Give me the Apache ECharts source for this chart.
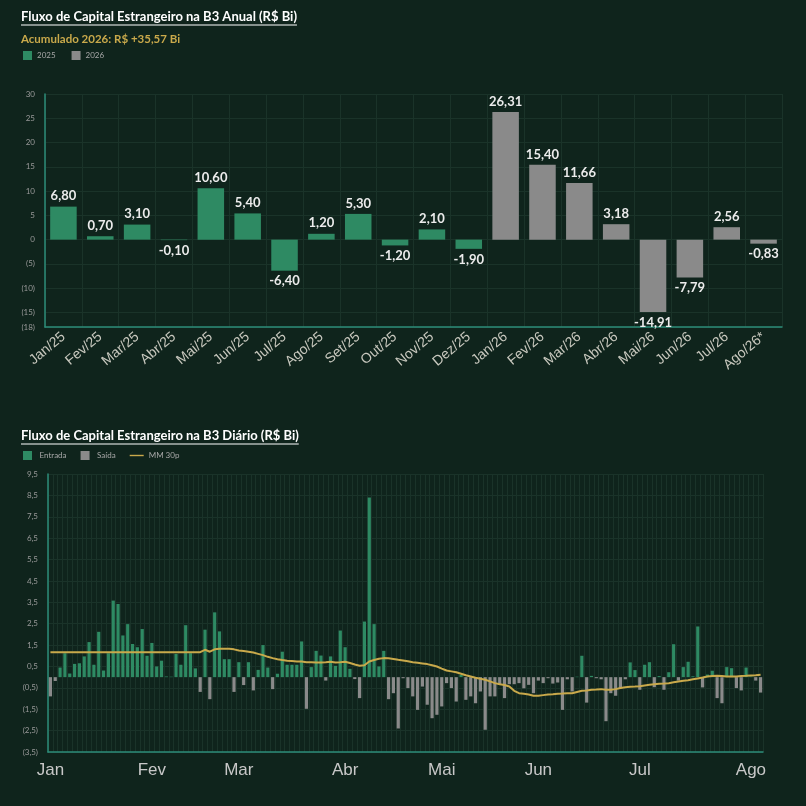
<!DOCTYPE html>
<html>
<head>
<meta charset="utf-8">
<script src="https://cdn.jsdelivr.net/npm/echarts@6/dist/echarts.min.js"></script>
<style>
  html, body { margin: 0; padding: 0; background: #0f241c; }
  #anual { width: 806px; height: 400px; }
  #diario { width: 806px; height: 406px; }
</style>
</head>
<body>
<div id="anual"></div>
<div id="diario"></div>
<script>
// monthly flow (R$ Bi)
var months2025 = ['Jan/25', 'Fev/25', 'Mar/25', 'Abr/25', 'Mai/25', 'Jun/25', 'Jul/25', 'Ago/25', 'Set/25', 'Out/25', 'Nov/25', 'Dez/25'];
var months2026 = ['Jan/26', 'Fev/26', 'Mar/26', 'Abr/26', 'Mai/26', 'Jun/26', 'Jul/26', 'Ago/26*'];
var flow2025 = [6.80, 0.70, 3.10, -0.10, 10.60, 5.40, -6.40, 1.20, 5.30, -1.20, 2.10, -1.90];
var flow2026 = [26.31, 15.40, 11.66, 3.18, -14.91, -7.79, 2.56, -0.83];
var accum2026 = '+35,57';

// daily flow (R$ Bi)
var monthNames = ['Jan', 'Fev', 'Mar', 'Abr', 'Mai', 'Jun', 'Jul', 'Ago'];
var tradingDays = [21, 18, 22, 20, 20, 21, 23, 3];
var dailyFlow = [
  -0.90, -0.18, 0.45, 1.12, 0.17, 0.62, 0.65, 0.97, 1.64, 0.58,
  2.12, 0.31, 1.12, 3.58, 3.42, 1.95, 2.48, 1.55, 1.40, 2.25,
  1.00, 1.60, 0.50, 0.77, 0.03, 0.02, 1.09, 0.58, 2.43, 1.12,
  0.41, -0.69, 2.22, -1.03, 3.03, 2.14, 0.84, 0.84, -0.69, 0.70,
  -0.37, 0.70, -0.62, 0.34, 1.50, 0.45, -0.56, 0.16, 1.19, 0.58,
  0.58, 0.58, 1.67, -1.48, 0.47, 1.23, 1.01, -0.16, 0.97, 0.53,
  2.18, 1.40, 0.39, -0.09, -0.98, 2.60, 8.40, 2.48, 0.50, 1.23,
  -1.03, -0.75, -2.40, -0.05, -0.51, -0.90, -1.53, -0.44, -1.29, -1.92,
  -1.76, -1.37, -0.28, -0.51, -1.14, 0.10, -1.06, -0.90, -1.22, -0.67,
  -2.46, -0.90, -0.90, -0.36, -0.98, -0.33, -0.33, -0.28, -0.52, -0.36,
  -0.75, -0.16, -0.28, -0.05, -0.30, -0.25, -1.53, -0.10, -0.67, 0.02,
  1.00, -1.19, 0.06, -0.05, -0.10, -2.06, -0.75, -0.87, -0.52, -0.10,
  0.69, 0.33, -0.59, 0.58, 0.70, -0.47, 0.05, -0.59, 0.23, 1.54,
  -0.16, 0.47, 0.72, 0.04, 2.37, -0.48, 0.12, 0.30, -0.98, -1.22,
  0.47, 0.42, -0.51, -0.62, 0.45, 0.03, -0.16, -0.72
];
var mm30 = [
  1.17, 1.17, 1.17, 1.17, 1.17, 1.17, 1.17, 1.17, 1.17, 1.17,
  1.17, 1.17, 1.17, 1.17, 1.17, 1.17, 1.17, 1.17, 1.17, 1.17,
  1.17, 1.17, 1.17, 1.17, 1.17, 1.17, 1.17, 1.17, 1.17, 1.17,
  1.17, 1.17, 1.28, 1.19, 1.30, 1.33, 1.33, 1.33, 1.30, 1.25,
  1.22, 1.19, 1.15, 1.09, 1.03, 0.95, 0.89, 0.84, 0.80, 0.77,
  0.75, 0.73, 0.73, 0.70, 0.70, 0.69, 0.69, 0.70, 0.72, 0.69,
  0.70, 0.72, 0.66, 0.59, 0.53, 0.56, 0.73, 0.80, 0.86, 0.89,
  0.88, 0.85, 0.81, 0.78, 0.74, 0.70, 0.67, 0.64, 0.61, 0.56,
  0.50, 0.40, 0.31, 0.27, 0.23, 0.16, 0.09, 0.03, -0.03, -0.07,
  -0.12, -0.20, -0.28, -0.33, -0.37, -0.44, -0.64, -0.75, -0.78, -0.81,
  -0.87, -0.87, -0.84, -0.81, -0.80, -0.78, -0.77, -0.75, -0.75, -0.69,
  -0.64, -0.62, -0.59, -0.58, -0.56, -0.59, -0.59, -0.56, -0.51, -0.47,
  -0.45, -0.44, -0.42, -0.39, -0.36, -0.33, -0.31, -0.30, -0.28, -0.24,
  -0.20, -0.17, -0.14, -0.10, -0.06, -0.02, 0.03, 0.05, 0.06, 0.05,
  0.03, 0.03, 0.03, 0.05, 0.06, 0.08, 0.09, 0.11
];

var BG = '#0f241c';
var GREEN = '#2e8a63';
var GREY = '#8a8a8a';
var GOLD = '#c9a94b';
var AXIS = '#2c8c78';
var GRID = '#1a3329';
var FONT = 'Lato, "Noto Sans", sans-serif';
var SQUARE = 'path://M0,0H10V10H0Z';
var DASH = 'path://M0,0H20V2H0Z';

function fmt(v, d) {
  return v.toFixed(d).replace('.', ',');
}

function underlinedTitle(text, top) {
  var font = 'bold 13px ' + FONT;
  var probe = new echarts.graphic.Text({ style: { text: text, font: font } });
  var w = probe.getBoundingRect().width;
  return [
    { type: 'text', left: 21, top: top, style: { text: text, font: font, fill: '#ffffff' } },
    { type: 'line', shape: { x1: 21, y1: top + 15, x2: 21 + w, y2: top + 15 }, style: { stroke: '#ffffff', lineWidth: 1 } }
  ];
}

// ---- annual chart ----
var chartAnual = echarts.init(document.getElementById('anual'));
var monthCats = months2025.concat(months2026);

function barItems(values, offset, total) {
  var out = [];
  for (var i = 0; i < total; i++) {
    var v = values[i - offset];
    if (i < offset || v === undefined) { out.push(null); continue; }
    out.push({ value: v, label: { position: v < 0 ? 'bottom' : 'top' } });
  }
  return out;
}

var barLabel = {
  show: true,
  color: '#ececec',
  fontWeight: 'bold',
  fontSize: 13,
  fontFamily: FONT,
  distance: 4,
  formatter: function (p) { return fmt(p.value, 2); }
};

var optionAnual = {
  backgroundColor: BG,
  animation: false,
  graphic: underlinedTitle('Fluxo de Capital Estrangeiro na B3 Anual (R$ Bi)', 10).concat([
    { type: 'text', left: 21, top: 33, style: { text: 'Acumulado 2026: R$ ' + accum2026 + ' Bi', font: 'bold 11.5px ' + FONT, fill: GOLD } }
  ]),
  legend: {
    left: 18, top: 46,
    itemWidth: 9, itemHeight: 9, itemGap: 16,
    icon: SQUARE,
    textStyle: { color: '#a8a8a8', fontSize: 8, fontFamily: FONT },
    data: ['2025', '2026']
  },
  grid: { left: 45, right: 24, top: 94, bottom: 73 },
  xAxis: {
    type: 'category',
    data: monthCats,
    axisLine: { onZero: false, lineStyle: { color: AXIS, width: 1.5 } },
    axisTick: { show: false },
    splitLine: { show: true, interval: 0, lineStyle: { color: GRID } },
    axisLabel: { interval: 0, rotate: 40, margin: 8, color: '#c8c8be', fontSize: 14, fontFamily: '"Liberation Sans", Arial, sans-serif' }
  },
  yAxis: {
    type: 'value',
    min: -18, max: 30, splitNumber: 10,
    axisLine: { show: true, lineStyle: { color: AXIS, width: 1.5 } },
    axisTick: { show: false },
    splitLine: { lineStyle: { color: GRID } },
    axisLabel: {
      color: '#9a9a9a', fontSize: 8, fontFamily: FONT, margin: 10,
      formatter: function (v) { return v < 0 ? '(' + (-v) + ')' : String(v); }
    }
  },
  series: [
    { name: '2025', type: 'bar', stack: 'm', barCategoryGap: '28%', itemStyle: { color: GREEN }, label: barLabel, data: barItems(flow2025, 0, monthCats.length) },
    { name: '2026', type: 'bar', stack: 'm', barCategoryGap: '28%', itemStyle: { color: GREY }, label: barLabel, data: barItems(flow2026, months2025.length, monthCats.length) }
  ]
};
chartAnual.setOption(optionAnual);

// ---- daily chart ----
var chartDiario = echarts.init(document.getElementById('diario'));
var dayCats = [];
var monthStart = {};
monthNames.forEach(function (m, k) {
  monthStart[dayCats.length] = true;
  for (var d = 1; d <= tradingDays[k]; d++) dayCats.push(m + ' ' + d);
});

var entrada = dailyFlow.map(function (v) { return v > 0 ? v : null; });
var saida = dailyFlow.map(function (v) { return v < 0 ? v : null; });

var optionDiario = {
  backgroundColor: BG,
  animation: false,
  graphic: underlinedTitle('Fluxo de Capital Estrangeiro na B3 Diário (R$ Bi)', 29),
  legend: {
    left: 18, top: 46,
    itemWidth: 14, itemHeight: 9, itemGap: 14,
    textStyle: { color: '#a8a8a8', fontSize: 8, fontFamily: FONT },
    data: [
      { name: 'Entrada', icon: SQUARE },
      { name: 'Saída', icon: SQUARE },
      { name: 'MM 30p', icon: DASH }
    ]
  },
  grid: { left: 48, right: 43, top: 74, bottom: 54 },
  xAxis: {
    type: 'category',
    data: dayCats,
    axisLine: { onZero: false, lineStyle: { color: AXIS, width: 1.5 } },
    axisTick: { show: false },
    splitLine: { show: true, interval: 0, lineStyle: { color: GRID } },
    axisLabel: {
      interval: function (idx) { return !!monthStart[idx]; },
      formatter: function (v) { return v.split(' ')[0]; },
      margin: 10, color: '#c8c8c8', fontSize: 17, fontFamily: '"Liberation Sans", Arial, sans-serif'
    }
  },
  yAxis: {
    type: 'value',
    min: -3.5, max: 9.5, interval: 1,
    axisLine: { show: true, lineStyle: { color: AXIS, width: 1.5 } },
    axisTick: { show: false },
    splitLine: { lineStyle: { color: GRID } },
    axisLabel: {
      color: '#9a9a9a', fontSize: 8, fontFamily: FONT, margin: 10,
      formatter: function (v) { return v < 0 ? '(' + fmt(-v, 1) + ')' : fmt(v, 1); }
    }
  },
  series: [
    { name: 'Entrada', type: 'bar', stack: 'd', barCategoryGap: '34%', itemStyle: { color: GREEN }, data: entrada },
    { name: 'Saída', type: 'bar', stack: 'd', barCategoryGap: '34%', itemStyle: { color: GREY }, data: saida },
    { name: 'MM 30p', type: 'line', symbol: 'none', lineStyle: { color: GOLD, width: 2 }, itemStyle: { color: GOLD }, data: mm30 }
  ]
};
chartDiario.setOption(optionDiario);
</script>
</body>
</html>
